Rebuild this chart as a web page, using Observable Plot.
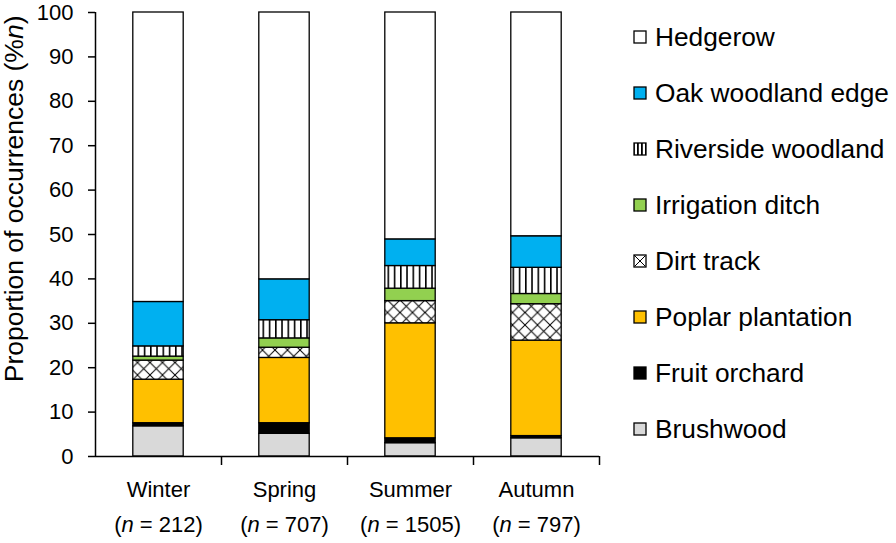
<!DOCTYPE html>
<html>
<head>
<meta charset="utf-8">
<script src="https://cdn.jsdelivr.net/npm/d3@7"></script>
<script src="https://cdn.jsdelivr.net/npm/@observablehq/plot@0.6"></script>
<style>
  body { margin: 0; background: white; }
  #wrap { position: relative; width: 896px; height: 543px; font-family: "Liberation Sans", Arial, sans-serif; }
  #chart { position: absolute; left: 0; top: 0; }
  .leg { position: absolute; left: 633px; height: 30px; display: flex; align-items: center; font-size: 26.3px; color: #000; white-space: nowrap; }
  .leg svg { margin-right: 8px; flex: none; }
</style>
</head>
<body>
<div id="wrap"><div id="chart"></div></div>
<script>
// ---- data ----
const seasons = ["Winter", "Spring", "Summer", "Autumn"];
const nSizes = [212, 707, 1505, 797];
// stacking order, bottom to top
const habitats = ["Brushwood", "Fruit orchard", "Poplar plantation", "Dirt track", "Irrigation ditch", "Riverside woodland", "Oak woodland edge", "Hedgerow"];
const brushwood         = [6.8, 5.1, 3.0, 4.1];
const fruitOrchard      = [0.7, 2.4, 1.1, 0.5];
const poplarPlantation  = [9.8, 14.7, 25.9, 21.5];
const dirtTrack         = [4.3, 2.3, 5.0, 8.2];
const irrigationDitch   = [0.9, 2.1, 2.8, 2.3];
const riversideWoodland = [2.3, 4.1, 5.1, 5.9];
const oakWoodlandEdge   = [10.0, 9.2, 6.0, 7.1];
const hedgerow          = [65.2, 60.1, 51.1, 50.4];
const yTicks = [0, 10, 20, 30, 40, 50, 60, 70, 80, 90, 100];
const yLabel = "Proportion of occurrences (%n)";

const series = [brushwood, fruitOrchard, poplarPlantation, dirtTrack, irrigationDitch, riversideWoodland, oakWoodlandEdge, hedgerow];
const fills = {
  "Brushwood": "#D9D9D9",
  "Fruit orchard": "#000000",
  "Poplar plantation": "#FFC000",
  "Dirt track": "url(#pat-dirt)",
  "Irrigation ditch": "#92D050",
  "Riverside woodland": "url(#pat-river)",
  "Oak woodland edge": "#00B0F0",
  "Hedgerow": "#FFFFFF"
};

// build stacked rows
const rows = [];
seasons.forEach((s, i) => {
  let acc = 0;
  habitats.forEach((h, k) => {
    const v = series[k][i];
    rows.push({season: s, i, habitat: h, y1: acc, y2: acc + v});
    acc += v;
  });
});

const rectMarks = habitats.map(h => Plot.rectY(rows.filter(d => d.habitat === h), {
  x1: d => d.i + 0.3, x2: d => d.i + 0.7, y1: "y1", y2: "y2",
  fill: fills[h], stroke: "#000", strokeWidth: 1.3
}));

const plot = Plot.plot({
  width: 620, height: 543,
  marginLeft: 95, marginRight: 21, marginTop: 12, marginBottom: 87,
  x: {domain: [0, 4], axis: null},
  y: {domain: [0, 100], axis: null},
  style: {fontFamily: "'Liberation Sans', Arial, sans-serif", color: "#000", background: "white", overflow: "visible"},
  marks: [
    ...rectMarks,
    Plot.ruleX([0], {stroke: "#000", strokeWidth: 1.5}),
    Plot.ruleY([0], {stroke: "#000", strokeWidth: 1.5}),
    Plot.axisY({ticks: yTicks, tickSize: 7, tickPadding: 15, fontSize: 22, label: null, strokeWidth: 1.5}),
    Plot.axisX({ticks: [1, 2, 3, 4], tickSize: 9, tickFormat: () => "", strokeWidth: 1.5, label: null}),
    Plot.axisX({ticks: seasons.map((s, i) => i + 0.5), tickSize: 0, tickPadding: 25, fontSize: 22, tickFormat: v => seasons[Math.floor(v)], label: null}),
    Plot.axisX({ticks: seasons.map((s, i) => i + 0.5), tickSize: 0, tickPadding: 60, fontSize: 22, tickFormat: v => `(n = ${nSizes[Math.floor(v)]})`, label: null}),
    Plot.text([yLabel], {frameAnchor: "top-left", rotate: -90, textAnchor: "end", lineAnchor: "top", dx: -91, dy: 3, fontSize: 26.5, fill: "#000"})
  ]
});

// patterns
const ns = "http://www.w3.org/2000/svg";
const defs = document.createElementNS(ns, "defs");
defs.innerHTML = `
  <pattern id="pat-river" patternUnits="userSpaceOnUse" width="6.25" height="10">
    <rect width="6.25" height="10" fill="#fff"/>
    <rect x="0" y="0" width="1.6" height="10" fill="#000"/>
  </pattern>
  <pattern id="pat-dirt" patternUnits="userSpaceOnUse" width="12.5" height="12.5">
    <rect width="12.5" height="12.5" fill="#fff"/>
    <path d="M0,0L12.5,12.5M12.5,0L0,12.5M-1,11.5L1,13.5M11.5,-1L13.5,1" stroke="#000" stroke-width="1"/>
  </pattern>
  <pattern id="pat-river-s" patternUnits="userSpaceOnUse" width="4" height="4">
    <rect width="4" height="4" fill="#fff"/>
    <rect x="0" y="0" width="1.8" height="4" fill="#000"/>
  </pattern>`;
plot.insertBefore(defs, plot.firstChild);

// italic n in labels
plot.querySelectorAll("text").forEach(t => {
  const s = t.textContent;
  if (s.startsWith("(n = ")) {
    t.innerHTML = `(<tspan font-style="italic">n</tspan>${s.slice(2)}`;
  } else if (s === yLabel) {
    t.innerHTML = `Proportion of occurrences (%<tspan font-style="italic">n</tspan>)`;
  }
});

document.getElementById("chart").appendChild(plot);

// legend (top to bottom = reverse stacking order)
const wrap = document.getElementById("wrap");
const legendOrder = habitats.slice().reverse();
legendOrder.forEach((h, j) => {
  const div = document.createElement("div");
  div.className = "leg";
  div.style.top = (37 + j * 56 - 15) + "px";
  let f = fills[h];
  if (h === "Riverside woodland") f = "url(#pat-river-s)";
  if (h === "Dirt track") f = "url(#pat-dirt-s)";
  div.innerHTML = `<svg width="14" height="14" viewBox="0 0 14 14">
    <defs><pattern id="pat-dirt-s" patternUnits="userSpaceOnUse" width="12" height="12"><rect width="12" height="12" fill="#fff"/><path d="M1,1L13,13M13,1L1,13" stroke="#000" stroke-width="1"/></pattern></defs>
    <rect x="1" y="1" width="12" height="12" fill="${f}" stroke="#000" stroke-width="1.3"/></svg><span>${h}</span>`;
  wrap.appendChild(div);
});
</script>
</body>
</html>
